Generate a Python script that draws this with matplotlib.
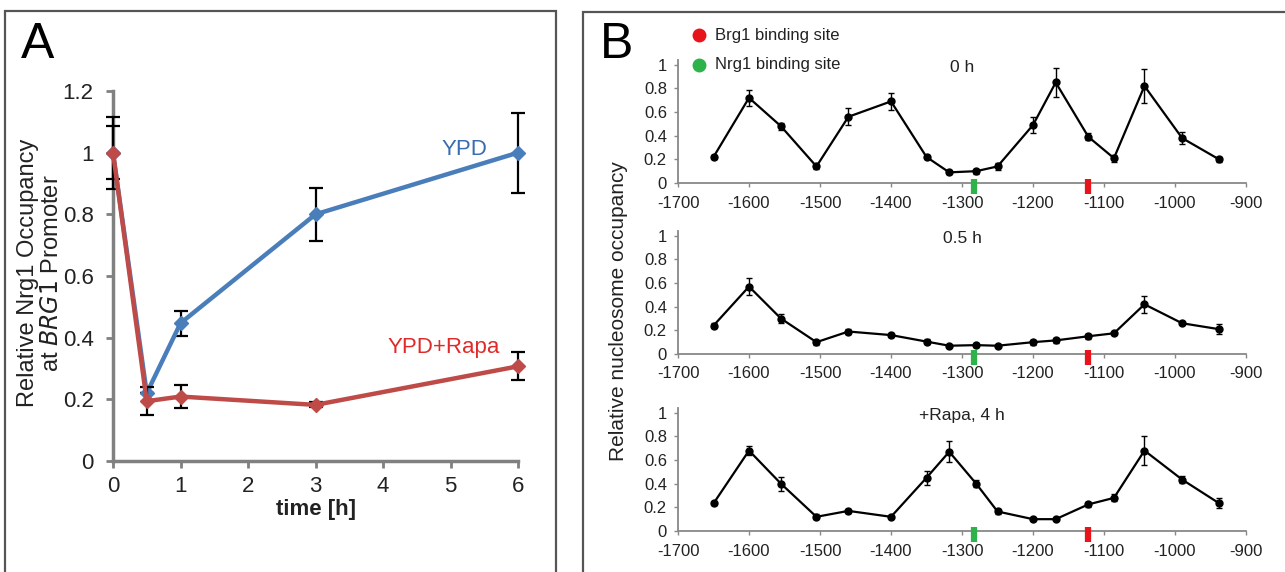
import matplotlib
matplotlib.use("Agg")
import matplotlib.pyplot as plt
from matplotlib.patches import Rectangle

plt.rcParams['font.family'] = ['Liberation Sans', 'DejaVu Sans']
plt.rcParams['axes.unicode_minus'] = False

# ---- panel A data ----
time_h = [0, 0.5, 1, 3, 6]
ypd = [1.0, 0.22, 0.447, 0.80, 1.0]
ypd_err = [0.117, 0.0, 0.04, 0.085, 0.13]
rapa = [1.0, 0.194, 0.209, 0.182, 0.307]
rapa_err = [0.085, 0.045, 0.037, 0.008, 0.045]

# ---- panel B data ----
position = [-1650, -1600, -1555, -1505, -1460, -1400, -1350, -1318, -1280,
            -1250, -1200, -1168, -1122, -1086, -1043, -990, -938]
occ_0h = [0.22, 0.72, 0.48, 0.14, 0.56, 0.69, 0.22, 0.09, 0.10,
          0.14, 0.49, 0.85, 0.39, 0.21, 0.82, 0.38, 0.20]
err_0h = [0.02, 0.07, 0.03, 0.02, 0.07, 0.07, 0.02, 0.01, 0.02,
          0.03, 0.07, 0.12, 0.03, 0.03, 0.14, 0.05, 0.02]
occ_05h = [0.24, 0.57, 0.30, 0.10, 0.19, 0.16, 0.105, 0.07, 0.075,
           0.07, 0.10, 0.115, 0.15, 0.175, 0.42, 0.26, 0.21]
err_05h = [0.02, 0.07, 0.04, 0.02, 0.02, 0.02, 0.02, 0.01, 0.02,
           0.01, 0.02, 0.02, 0.02, 0.01, 0.07, 0.01, 0.04]
occ_rapa = [0.233, 0.68, 0.40, 0.12, 0.17, 0.12, 0.45, 0.67, 0.40,
            0.165, 0.10, 0.10, 0.225, 0.28, 0.68, 0.435, 0.235]
err_rapa = [0.01, 0.04, 0.06, 0.02, 0.02, 0.01, 0.06, 0.09, 0.03,
            0.02, 0.01, 0.01, 0.02, 0.03, 0.12, 0.03, 0.04]
panels_b = [("0 h", occ_0h, err_0h), ("0.5 h", occ_05h, err_05h),
            ("+Rapa, 4 h", occ_rapa, err_rapa)]
nrg1_site = -1283
brg1_site = -1123

W, H = 1285, 572
fig = plt.figure(figsize=(W / 100, H / 100), dpi=100)
fig.patch.set_facecolor('white')

# panel frames (bottom and B's right edge run off the picture)
fig.patches.append(Rectangle((5 / W, -0.05), 551 / W, 1 - 11 / H + 0.05,
                             transform=fig.transFigure, fill=False,
                             edgecolor='#555555', lw=1.6))
fig.patches.append(Rectangle((583 / W, -0.05), 0.6, 1 - 12 / H + 0.05,
                             transform=fig.transFigure, fill=False,
                             edgecolor='#555555', lw=1.6))

# ---------------- panel A ----------------
axA = fig.add_axes([113 / W, 1 - 461 / H, 405 / W, 370 / H])
for vals, errs, col, z in [(ypd, ypd_err, '#4a7ebb', 3),
                           (rapa, rapa_err, '#be4b48', 4)]:
    lines = axA.errorbar(time_h, vals, yerr=errs, color=col, lw=3.2,
                         marker='D', ms=7, ecolor='black', elinewidth=1.6,
                         capsize=5, capthick=1.6, zorder=z)
    for art in lines.get_children():
        art.set_clip_on(False)
axA.set_xlim(0, 6)
axA.set_ylim(0, 1.2)
axA.set_xticks(range(7))
axA.set_yticks([0, 0.2, 0.4, 0.6, 0.8, 1.0, 1.2])
axA.set_yticklabels(['0', '0.2', '0.4', '0.6', '0.8', '1', '1.2'])
for s in ['top', 'right']:
    axA.spines[s].set_visible(False)
for s in ['left', 'bottom']:
    axA.spines[s].set_color('#808080')
    axA.spines[s].set_linewidth(2.5)
axA.tick_params(colors='#808080', width=2, length=5, labelsize=16,
                labelcolor='#222222', pad=6)
axA.tick_params(axis='y', pad=9)
axA.set_xlabel('time [h]', fontsize=16, fontweight='bold', color='#222222',
               labelpad=1)
axA.text(5.21, 1.01, 'YPD', color='#3a6cb0', fontsize=16, ha='center',
         va='center')
axA.text(4.9, 0.367, 'YPD+Rapa', color='#e02a2a', fontsize=16, ha='center',
         va='center')
fig.text(28 / W, 1 - 273 / H, 'Relative Nrg1 Occupancy', rotation=90,
         ha='center', va='center', fontsize=17, color='#222222')
fig.text(52 / W, 1 - 273 / H, r'at $\it{BRG1}$ Promoter', rotation=90,
         ha='center', va='center', fontsize=17, color='#222222')
fig.text(38 / W, 1 - 45 / H, 'A', ha='center', va='center', fontsize=36)

# ---------------- panel B ----------------
bottoms = [183, 354, 531]
axes_b = []
for (title, occ, err), y0 in zip(panels_b, bottoms):
    ax = fig.add_axes([678 / W, 1 - y0 / H, 568 / W, 123 / H])
    ax.errorbar(position, occ, yerr=err, color='black', lw=1.6, marker='o',
                ms=5, elinewidth=1, capsize=2.5, capthick=1)
    ax.set_xlim(-1700, -900)
    ax.set_ylim(0, 1.04)
    ax.set_xticks(range(-1700, -899, 100))
    ax.set_yticks([0, 0.2, 0.4, 0.6, 0.8, 1.0])
    ax.set_yticklabels(['0', '0.2', '0.4', '0.6', '0.8', '1'])
    for s in ['top', 'right']:
        ax.spines[s].set_visible(False)
    for s in ['left', 'bottom']:
        ax.spines[s].set_color('#888888')
        ax.spines[s].set_linewidth(1.3)
    ax.tick_params(colors='#888888', width=1, length=3, labelsize=12,
                   labelcolor='#222222', pad=5)
    ax.tick_params(axis='x', pad=6)
    ax.plot([nrg1_site, nrg1_site], [0.03, -0.09], color='#2db34a', lw=4.5,
            solid_capstyle='butt', clip_on=False, zorder=5)
    ax.plot([brg1_site, brg1_site], [0.03, -0.09], color='#e8141c', lw=4.5,
            solid_capstyle='butt', clip_on=False, zorder=5)
    ax.text(-1300, 0.98, title, ha='center', va='center', fontsize=12.5,
            color='#222222')
    axes_b.append(ax)

# binding site key
axt = axes_b[0]
axt.plot([-1670], [1.25], 'o', color='#e8141c', ms=9, clip_on=False)
axt.plot([-1670], [1.0], 'o', color='#2db34a', ms=9, clip_on=False)
axt.text(-1648, 1.25, 'Brg1 binding site', va='center', fontsize=12,
         color='#222222')
axt.text(-1648, 1.0, 'Nrg1 binding site', va='center', fontsize=12,
         color='#222222')

fig.text(618 / W, 1 - 311 / H, 'Relative nucleosome occupancy', rotation=90,
         ha='center', va='center', fontsize=15, color='#222222')
fig.text(617 / W, 1 - 45 / H, 'B', ha='center', va='center', fontsize=36)

fig.savefig('out.png', dpi=100)
